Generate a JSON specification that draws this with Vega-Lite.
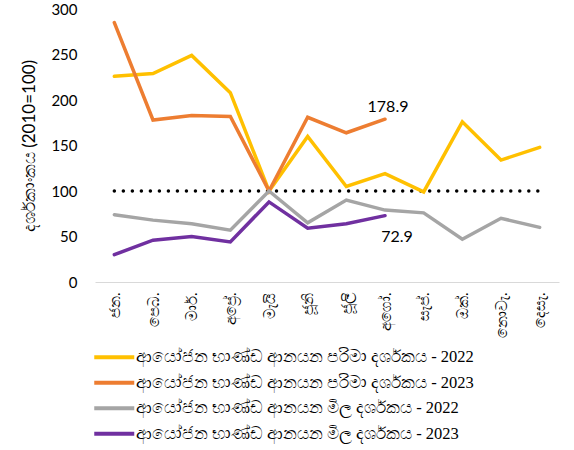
{
  "$schema": "https://vega.github.io/schema/vega-lite/v6.json",
  "width": 464,
  "height": 273,
  "autosize": {"type": "none"},
  "padding": {"left": 95, "top": 9, "right": 15, "bottom": 168},
  "background": "white",
  "config": {
    "view": {"stroke": null},
    "font": "Lato"
  },
  "datasets": {
    "main": [
      {"month": "ජන.", "series": "ආයෝජන භාණ්ඩ ආනයන පරිමා දර්ශකය - 2022", "value": 226},
      {"month": "පෙබ.", "series": "ආයෝජන භාණ්ඩ ආනයන පරිමා දර්ශකය - 2022", "value": 229},
      {"month": "මාර්.", "series": "ආයෝජන භාණ්ඩ ආනයන පරිමා දර්ශකය - 2022", "value": 249},
      {"month": "අප්‍රේ.", "series": "ආයෝජන භාණ්ඩ ආනයන පරිමා දර්ශකය - 2022", "value": 208},
      {"month": "මැයි", "series": "ආයෝජන භාණ්ඩ ආනයන පරිමා දර්ශකය - 2022", "value": 100},
      {"month": "ජූනි", "series": "ආයෝජන භාණ්ඩ ආනයන පරිමා දර්ශකය - 2022", "value": 160},
      {"month": "ජූලි", "series": "ආයෝජන භාණ්ඩ ආනයන පරිමා දර්ශකය - 2022", "value": 105},
      {"month": "අගෝ.", "series": "ආයෝජන භාණ්ඩ ආනයන පරිමා දර්ශකය - 2022", "value": 119},
      {"month": "සැප්.", "series": "ආයෝජන භාණ්ඩ ආනයන පරිමා දර්ශකය - 2022", "value": 99},
      {"month": "ඔක්.", "series": "ආයෝජන භාණ්ඩ ආනයන පරිමා දර්ශකය - 2022", "value": 176},
      {"month": "නොවැ.", "series": "ආයෝජන භාණ්ඩ ආනයන පරිමා දර්ශකය - 2022", "value": 134},
      {"month": "දෙසැ.", "series": "ආයෝජන භාණ්ඩ ආනයන පරිමා දර්ශකය - 2022", "value": 148},
      {"month": "ජන.", "series": "ආයෝජන භාණ්ඩ ආනයන පරිමා දර්ශකය - 2023", "value": 285},
      {"month": "පෙබ.", "series": "ආයෝජන භාණ්ඩ ආනයන පරිමා දර්ශකය - 2023", "value": 178},
      {"month": "මාර්.", "series": "ආයෝජන භාණ්ඩ ආනයන පරිමා දර්ශකය - 2023", "value": 183},
      {"month": "අප්‍රේ.", "series": "ආයෝජන භාණ්ඩ ආනයන පරිමා දර්ශකය - 2023", "value": 182},
      {"month": "මැයි", "series": "ආයෝජන භාණ්ඩ ආනයන පරිමා දර්ශකය - 2023", "value": 100},
      {"month": "ජූනි", "series": "ආයෝජන භාණ්ඩ ආනයන පරිමා දර්ශකය - 2023", "value": 181},
      {"month": "ජූලි", "series": "ආයෝජන භාණ්ඩ ආනයන පරිමා දර්ශකය - 2023", "value": 164},
      {"month": "අගෝ.", "series": "ආයෝජන භාණ්ඩ ආනයන පරිමා දර්ශකය - 2023", "value": 178.9},
      {"month": "ජන.", "series": "ආයෝජන භාණ්ඩ ආනයන මිල දර්ශකය - 2022", "value": 74},
      {"month": "පෙබ.", "series": "ආයෝජන භාණ්ඩ ආනයන මිල දර්ශකය - 2022", "value": 68},
      {"month": "මාර්.", "series": "ආයෝජන භාණ්ඩ ආනයන මිල දර්ශකය - 2022", "value": 64},
      {"month": "අප්‍රේ.", "series": "ආයෝජන භාණ්ඩ ආනයන මිල දර්ශකය - 2022", "value": 57},
      {"month": "මැයි", "series": "ආයෝජන භාණ්ඩ ආනයන මිල දර්ශකය - 2022", "value": 100},
      {"month": "ජූනි", "series": "ආයෝජන භාණ්ඩ ආනයන මිල දර්ශකය - 2022", "value": 65},
      {"month": "ජූලි", "series": "ආයෝජන භාණ්ඩ ආනයන මිල දර්ශකය - 2022", "value": 90},
      {"month": "අගෝ.", "series": "ආයෝජන භාණ්ඩ ආනයන මිල දර්ශකය - 2022", "value": 79},
      {"month": "සැප්.", "series": "ආයෝජන භාණ්ඩ ආනයන මිල දර්ශකය - 2022", "value": 76},
      {"month": "ඔක්.", "series": "ආයෝජන භාණ්ඩ ආනයන මිල දර්ශකය - 2022", "value": 47},
      {"month": "නොවැ.", "series": "ආයෝජන භාණ්ඩ ආනයන මිල දර්ශකය - 2022", "value": 70},
      {"month": "දෙසැ.", "series": "ආයෝජන භාණ්ඩ ආනයන මිල දර්ශකය - 2022", "value": 60},
      {"month": "ජන.", "series": "ආයෝජන භාණ්ඩ ආනයන මිල දර්ශකය - 2023", "value": 30},
      {"month": "පෙබ.", "series": "ආයෝජන භාණ්ඩ ආනයන මිල දර්ශකය - 2023", "value": 46},
      {"month": "මාර්.", "series": "ආයෝජන භාණ්ඩ ආනයන මිල දර්ශකය - 2023", "value": 50},
      {"month": "අප්‍රේ.", "series": "ආයෝජන භාණ්ඩ ආනයන මිල දර්ශකය - 2023", "value": 44},
      {"month": "මැයි", "series": "ආයෝජන භාණ්ඩ ආනයන මිල දර්ශකය - 2023", "value": 88},
      {"month": "ජූනි", "series": "ආයෝජන භාණ්ඩ ආනයන මිල දර්ශකය - 2023", "value": 59},
      {"month": "ජූලි", "series": "ආයෝජන භාණ්ඩ ආනයන මිල දර්ශකය - 2023", "value": 64},
      {"month": "අගෝ.", "series": "ආයෝජන භාණ්ඩ ආනයන මිල දර්ශකය - 2023", "value": 72.9}
    ],
    "base": [
      {"month": "ජන.", "value": 100},
      {"month": "පෙබ.", "value": 100},
      {"month": "මාර්.", "value": 100},
      {"month": "අප්‍රේ.", "value": 100},
      {"month": "මැයි", "value": 100},
      {"month": "ජූනි", "value": 100},
      {"month": "ජූලි", "value": 100},
      {"month": "අගෝ.", "value": 100},
      {"month": "සැප්.", "value": 100},
      {"month": "ඔක්.", "value": 100},
      {"month": "නොවැ.", "value": 100},
      {"month": "දෙසැ.", "value": 100}
    ]
  },
  "encoding": {
    "x": {
      "field": "month",
      "type": "ordinal",
      "scale": {"type": "point", "padding": 0.5, "domain": ["ජන.", "පෙබ.", "මාර්.", "අප්‍රේ.", "මැයි", "ජූනි", "ජූලි", "අගෝ.", "සැප්.", "ඔක්.", "නොවැ.", "දෙසැ."]},
      "axis": {"title": null, "labelAngle": -90, "ticks": false, "domainColor": "#d9d9d9", "domainWidth": 1, "labelFontSize": 15, "labelColor": "#000000", "labelPadding": 10}
    },
    "y": {
      "field": "value",
      "type": "quantitative",
      "scale": {"domain": [0, 300], "nice": false},
      "axis": {"title": "දර්ශකාංකය (2010=100)", "values": [0, 50, 100, 150, 200, 250, 300], "grid": false, "domain": false, "ticks": false, "labelFontSize": 15, "labelColor": "#000000", "labelPadding": 18, "titleFontSize": 17, "titleFontWeight": "normal", "titleColor": "#000000", "titlePadding": 12}
    }
  },
  "layer": [
    {
      "data": {"name": "base"},
      "mark": {"type": "line", "color": "#000000", "strokeWidth": 3.5, "strokeCap": "round", "strokeDash": [0.01, 9]}
    },
    {
      "data": {"name": "main"},
      "mark": {"type": "line", "strokeWidth": 3.5, "strokeCap": "round", "strokeJoin": "miter"},
      "encoding": {
        "color": {
          "field": "series",
          "type": "nominal",
          "scale": {
            "domain": ["ආයෝජන භාණ්ඩ ආනයන පරිමා දර්ශකය - 2022", "ආයෝජන භාණ්ඩ ආනයන පරිමා දර්ශකය - 2023", "ආයෝජන භාණ්ඩ ආනයන මිල දර්ශකය - 2022", "ආයෝජන භාණ්ඩ ආනයන මිල දර්ශකය - 2023"],
            "range": ["#FFC000", "#ED7D31", "#A5A5A5", "#7030A0"]
          },
          "legend": {
            "title": null,
            "orient": "none",
            "legendX": 11,
            "legendY": 340,
            "direction": "vertical",
            "symbolType": "M-4,0H4",
            "symbolSize": 100,
            "symbolStrokeWidth": 4,
            "labelFontSize": 16.5,
            "labelFont": "Liberation Serif",
            "labelColor": "#000000",
            "labelLimit": 500,
            "rowPadding": 8.5,
            "labelOffset": 13
          }
        }
      }
    },
    {
      "data": {"name": "main"},
      "transform": [{"filter": "datum.month == 'අගෝ.' && datum.series == 'ආයෝජන භාණ්ඩ ආනයන පරිමා දර්ශකය - 2023'"}],
      "mark": {"type": "text", "fontSize": 16, "dx": 3, "dy": -12, "color": "#000000"},
      "encoding": {"text": {"field": "value", "type": "quantitative", "format": ".1f"}}
    },
    {
      "data": {"name": "main"},
      "transform": [{"filter": "datum.month == 'අගෝ.' && datum.series == 'ආයෝජන භාණ්ඩ ආනයන මිල දර්ශකය - 2023'"}],
      "mark": {"type": "text", "fontSize": 16, "dx": 12, "dy": 21, "color": "#000000"},
      "encoding": {"text": {"field": "value", "type": "quantitative", "format": ".1f"}}
    }
  ]
}
